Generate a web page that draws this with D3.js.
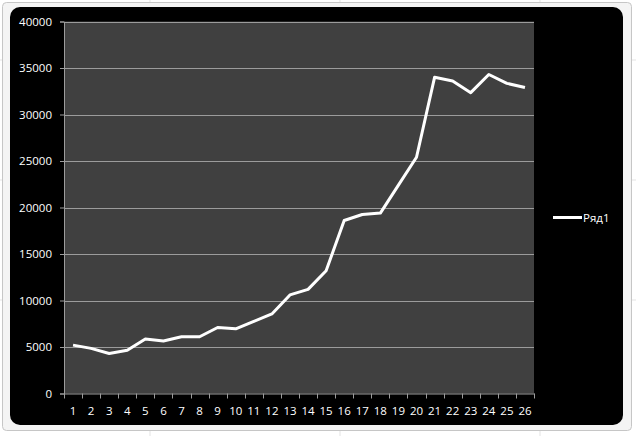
<!DOCTYPE html>
<html lang="ru">
<head>
    <meta charset="UTF-8">
    <title>Ряд1</title>
    <script src="https://d3js.org/d3.v7.min.js"></script>
    <style>
        body { margin: 0; background: #ffffff; }
        .tick-label { font-family: "Open Sans", "Liberation Sans", sans-serif; font-size: 11.5px; fill: #ffffff; }
        .grid { stroke: #9c9c9c; stroke-width: 1; }
        .axis-line { stroke: #9c9c9c; stroke-width: 1; }
        .series { fill: none; stroke: #ffffff; stroke-width: 3; stroke-linejoin: round; }
    </style>
</head>
<body>
    <div id="chart"></div>
    <script>
        const width = 636, height = 436;

        // data
        const categories = d3.range(1, 27).map(String);
        const values = [5200, 4850, 4300, 4650, 5850, 5650, 6100, 6100, 7100, 6950,
                        7750, 8550, 10600, 11200, 13200, 18600, 19250, 19400, 22400, 25400,
                        34000, 33600, 32350, 34300, 33350, 32900];
        const yTicks = [0, 5000, 10000, 15000, 20000, 25000, 30000, 35000, 40000];
        const seriesName = "Ряд1";

        const plot = { left: 64, right: 534, top: 21.5, bottom: 393.5 };

        const svg = d3.select("#chart")
            .append("svg")
            .attr("width", width)
            .attr("height", height);

        // worksheet behind the chart
        svg.append("rect").attr("width", width).attr("height", height).attr("fill", "#ffffff");
        const cellLines = svg.append("g").attr("stroke", "#e3e3e3");
        [150, 340, 540].forEach(x => cellLines.append("line").attr("x1", x).attr("x2", x).attr("y1", 0).attr("y2", height));
        [60, 180, 300].forEach(y => cellLines.append("line").attr("x1", 0).attr("x2", width).attr("y1", y).attr("y2", y));
        svg.append("rect")
            .attr("x", 2.5).attr("y", 2.5)
            .attr("width", 629).attr("height", 428)
            .attr("rx", 4)
            .attr("fill", "#f4f4f4")
            .attr("stroke", "#c6c6c6");

        // chart area
        svg.append("rect")
            .attr("x", 10).attr("y", 7)
            .attr("width", 613).attr("height", 418)
            .attr("rx", 10)
            .attr("fill", "#000000");

        const x = d3.scaleBand().domain(categories).range([plot.left, plot.right]).padding(0);
        const y = d3.scaleLinear().domain([0, 40000]).range([plot.bottom, plot.top]);

        svg.append("rect")
            .attr("x", plot.left).attr("y", plot.top)
            .attr("width", plot.right - plot.left).attr("height", plot.bottom - plot.top)
            .attr("fill", "#404040");

        // gridlines
        svg.append("g").selectAll("line")
            .data(yTicks.slice(1))
            .join("line")
            .attr("class", "grid")
            .attr("x1", plot.left).attr("x2", plot.right)
            .attr("y1", d => Math.round(y(d)) + 0.5).attr("y2", d => Math.round(y(d)) + 0.5);

        // y axis
        const yAxis = svg.append("g")
            .attr("transform", `translate(${plot.left},0)`)
            .call(d3.axisLeft(y).tickValues(yTicks).tickSize(4).tickPadding(8).tickFormat(d3.format("d")));
        yAxis.select(".domain").attr("stroke", "#9c9c9c");
        yAxis.selectAll(".tick line").attr("stroke", "#9c9c9c");
        yAxis.selectAll(".tick text").attr("class", "tick-label").attr("fill", "#ffffff");

        // x axis: labels centred in the band, tick marks on band edges
        const xAxis = svg.append("g")
            .attr("transform", `translate(0,${plot.bottom})`)
            .call(d3.axisBottom(x).tickSize(0).tickPadding(13));
        xAxis.select(".domain").attr("stroke", "#9c9c9c");
        xAxis.selectAll(".tick text").attr("class", "tick-label").attr("fill", "#ffffff");
        xAxis.selectAll(".edge")
            .data(categories.map(c => x(c)).concat([plot.right]))
            .join("line")
            .attr("class", "axis-line")
            .attr("x1", d => Math.round(d) + 0.5).attr("x2", d => Math.round(d) + 0.5)
            .attr("y1", 0).attr("y2", 5);

        // series
        const line = d3.line()
            .x((d, i) => x(categories[i]) + x.bandwidth() / 2)
            .y(d => y(d));
        svg.append("path")
            .datum(values)
            .attr("class", "series")
            .attr("d", line);

        // legend
        const legend = svg.append("g").attr("transform", "translate(553,217.5)");
        legend.append("line")
            .attr("x1", 0).attr("x2", 29)
            .attr("stroke", "#ffffff").attr("stroke-width", 3);
        legend.append("text")
            .attr("class", "tick-label")
            .attr("x", 30).attr("dy", "0.35em")
            .text(seriesName);
    </script>
</body>
</html>
